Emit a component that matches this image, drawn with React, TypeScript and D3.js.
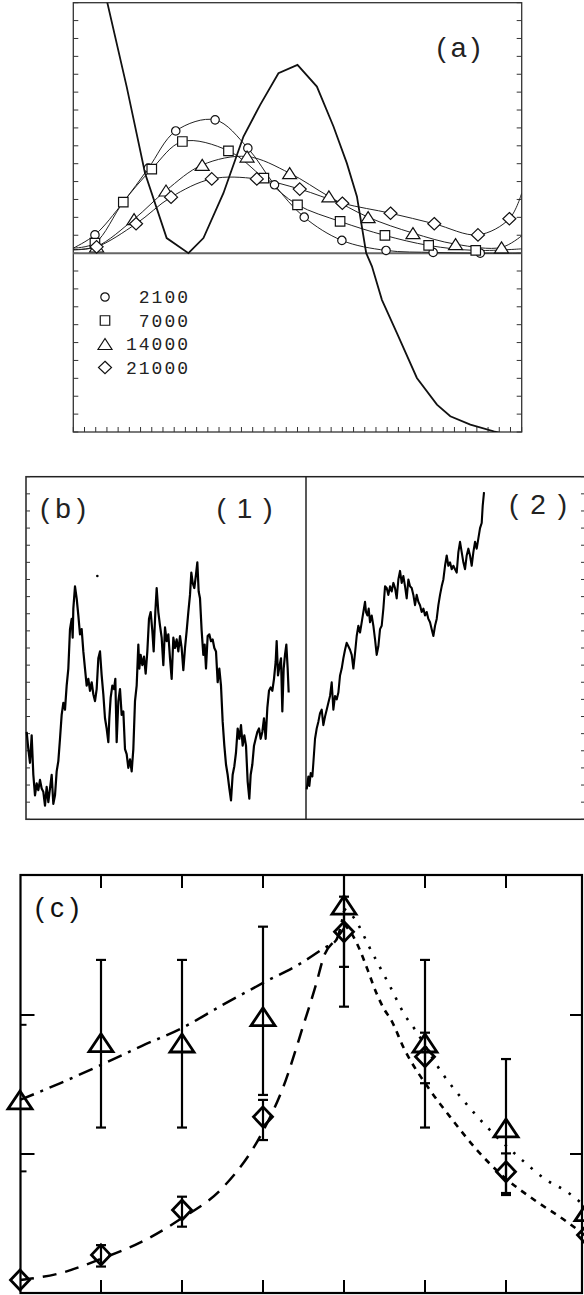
import React from 'react';
import * as d3 from 'd3';

const W = 584, H = 1295;

// ---------- panel (a) ----------
// thick solid curve
const solidCurve: [number, number][] = [
  [2.5, 15.5], [2.98, 14.15], [4.76, 9.31], [6.4, 4.47], [8.33, 0.84], [10.27, 0], [11.61, 0.84],
  [13.39, 3.35], [15.18, 6.52], [16.67, 8.29], [18.3, 10.06], [20.0, 10.52], [21.73, 9.31],
  [23.21, 7.08], [24.4, 5.03], [25.3, 3.17], [26.13, 0], [26.64, -0.74], [27.53, -2.61],
  [28.87, -4.47], [30.65, -6.98], [32.44, -8.47], [33.63, -9.12], [35.42, -9.59], [37.5, -9.96], [39, -10.2]
];
// thin curves with markers (first and last points are line ends only)
const s2100: [number, number][] = [
  [0, 0.28], [1.93, 1.02], [4.46, 2.85], [6.7, 4.75], [9.14, 6.83], [12.65, 7.45], [15.57, 5.87],
  [17.95, 3.82], [20.6, 2.01], [23.96, 0.71], [27.9, 0.15], [32.1, 0.04], [36.3, 0.0], [40, 0.0]
];
const s7000: [number, number][] = [
  [0, 0.28], [1.93, 0.56], [4.46, 2.85], [7.0, 4.7], [9.73, 6.24], [13.84, 5.72], [17.0, 4.19],
  [20.0, 2.7], [23.8, 1.77], [27.8, 0.99], [31.7, 0.43], [35.9, 0.15], [40, 0.24]
];
const s14000: [number, number][] = [
  [0, 0.2], [2.08, 0.37], [5.42, 1.9], [8.27, 3.5], [11.5, 4.93], [15.5, 5.4], [19.3, 4.47],
  [22.8, 3.17], [26.3, 2.01], [30.3, 1.12], [34.1, 0.5], [38.2, 0.32], [40, 0.97]
];
const s21000: [number, number][] = [
  [0, 0.18], [2.08, 0.35], [5.6, 1.64], [8.72, 3.13], [12.35, 4.15], [16.37, 4.15], [20.2, 3.58],
  [24.0, 2.79], [28.3, 2.23], [32.2, 1.64], [36.1, 1.02], [38.9, 1.92], [40, 3.35]
];
const legendLabels = ['2100', '7000', '14000', '21000'];
const legendShapes = ['circle', 'square', 'triangle', 'diamond'];

// ---------- panel (b) ----------
const walk1: [number, number][] = [
  [2, 5.1], [7, 4.1], [12, 3.3], [17, 4.9], [22, 2.6], [27, 1.4], [32, 2.1], [37, 1.7], [42, 2.3], [47, 1.8],
  [52, 1.6], [57, 0.8], [62, 1.9], [67, 1.0], [72, 1.8], [77, 2.6], [82, 0.9], [87, 1.4], [92, 2.8], [97, 3.4],
  [102, 4.7], [107, 6.1], [112, 6.8], [117, 6.4], [122, 7.8], [127, 8.8], [132, 11.1], [137, 11.7], [140, 10.6],
  [142, 12.3], [147, 13.6], [152, 12.9], [157, 11.9], [162, 10.8], [167, 11.1], [172, 9.8], [177, 8.8], [182, 7.8],
  [187, 8.2], [192, 7.5], [197, 8.0], [202, 7.3], [207, 6.9], [212, 7.6], [217, 9.4], [222, 9.8], [227, 8.4],
  [232, 7.3], [237, 5.9], [242, 5.3], [247, 4.5], [250, 5.9], [254, 7.1], [259, 7.8], [264, 7.6], [268, 8.2],
  [272, 4.5], [277, 6.9], [282, 7.6], [287, 6.1], [292, 6.3], [297, 4.1], [302, 3.8], [307, 3.0], [312, 3.5],
  [317, 2.8], [322, 4.1], [327, 6.9], [332, 7.8], [337, 10.2], [340, 8.8], [344, 9.6], [349, 9.0], [354, 9.5],
  [359, 8.5], [364, 9.8], [369, 11.7], [374, 12.1], [379, 11.0], [383, 9.8], [388, 12.1], [392, 13.5], [397, 12.1],
  [402, 11.3], [407, 10.6], [412, 9.0], [417, 11.2], [422, 10.4], [427, 10.8], [432, 9.4], [437, 8.2], [442, 10.6],
  [447, 10.0], [452, 10.5], [457, 9.8], [462, 10.7], [467, 10.0], [472, 8.7], [477, 10.0], [482, 11.0], [487, 12.1],
  [492, 13.1], [496, 14.4], [500, 13.8], [505, 13.5], [510, 14.3], [514, 15.0], [518, 13.3], [522, 12.9], [527, 11.0],
  [532, 9.6], [536, 10.2], [540, 8.8], [545, 10.7], [550, 10.8], [555, 10.4], [560, 10.5], [565, 10.0], [570, 9.8],
  [575, 8.0], [580, 8.8], [585, 7.8], [590, 5.7], [595, 4.3], [600, 3.2], [605, 2.6], [610, 1.8], [615, 1.1],
  [620, 2.6], [625, 3.1], [630, 3.9], [635, 5.3], [640, 4.7], [645, 5.5], [650, 4.3], [655, 4.9], [660, 4.3],
  [665, 2.2], [670, 1.2], [674, 2.6], [679, 3.2], [684, 4.3], [689, 4.7], [694, 5.1], [699, 5.3], [704, 4.7],
  [709, 5.1], [714, 5.9], [719, 4.7], [724, 6.5], [729, 7.5], [734, 7.7], [739, 7.5], [744, 8.2], [749, 9.2],
  [752, 10.4], [756, 8.4], [761, 9.0], [765, 9.4], [769, 6.3], [773, 8.8], [777, 9.6], [781, 10.2], [785, 8.8], [788, 7.4]
];
const walk2: [number, number][] = [
  [3, 1.75], [8, 2.5], [11, 1.95], [15, 2.7], [20, 2.5], [23, 3.3], [28, 4.7], [33, 5.3], [38, 5.7], [43, 6.2],
  [48, 6.4], [53, 5.5], [58, 6.0], [63, 6.4], [68, 6.8], [73, 7.2], [78, 8.0], [83, 6.4], [88, 7.2], [93, 7.0],
  [98, 7.4], [103, 8.4], [108, 8.8], [113, 9.4], [118, 9.9], [123, 10.3], [128, 10.1], [133, 9.9], [138, 9.6],
  [143, 8.8], [148, 9.7], [153, 10.7], [158, 11.3], [163, 10.9], [168, 11.5], [173, 12.1], [178, 12.7], [181, 12.1],
  [185, 11.9], [189, 12.3], [193, 11.5], [198, 11.9], [203, 11.3], [208, 10.5], [213, 9.6], [218, 10.1], [223, 11.1],
  [228, 11.3], [233, 12.3], [238, 13.6], [243, 13.5], [248, 13.1], [253, 13.6], [258, 13.3], [263, 13.8], [268, 13.5],
  [273, 12.9], [278, 14.0], [283, 14.5], [288, 13.8], [293, 14.2], [298, 13.6], [303, 12.9], [308, 14.0], [313, 13.6],
  [318, 13.5], [323, 13.1], [328, 12.5], [333, 13.1], [338, 12.7], [343, 12.5], [348, 12.1], [353, 12.3], [358, 11.9],
  [363, 12.1], [368, 11.7], [373, 11.5], [378, 11.1], [383, 10.7], [388, 11.3], [393, 11.7], [398, 12.5], [403, 13.1],
  [408, 13.6], [413, 14.0], [418, 14.8], [423, 15.4], [428, 14.8], [433, 15.0], [438, 14.6], [443, 14.8], [448, 14.6],
  [453, 14.4], [458, 15.6], [463, 16.2], [468, 15.6], [473, 15.0], [478, 14.6], [483, 15.4], [488, 15.8], [493, 15.4],
  [498, 14.8], [503, 15.6], [508, 16.2], [513, 15.8], [518, 16.4], [523, 17.0], [528, 17.3], [531, 18.3], [535, 19.1]
];
const speck: [number, number] = [214, 14.2];

// ---------- panel (c) ----------
const cX = [0, 1, 2, 3, 4, 5, 6, 7];
const triVals = [24.5, 63.2, 62.9, 97.2, 618, 62.9, 15.4, 3.85];
const triLo = [null, 15.5, 15.5, 26.6, 114.8, 15.5, 5.07, null];
const triHi = [null, 249, 249, 432, 3300, 249, 48.2, null];
const diaVals = [1.24, 1.88, 3.96, 18.5, 397, 50.1, 7.46, 2.61];
const diaLo = [null, 1.55, 3.0, 12.6, 222, 32.3, 5.24, null];
const diaHi = [null, 2.21, 4.93, 24.5, 710, 74.6, 10.1, null];
const triFitLeft: [number, number][] = [
  [0, 24.5], [0.5, 32.4], [1, 43.7], [1.5, 59.8], [2, 80.6], [2.5, 118], [3, 170], [3.5, 242], [3.75, 302], [3.9, 343], [4, 560]
];
const triFitRight: [number, number][] = [
  [4, 580], [4.1, 520], [4.35, 279], [4.57, 160], [4.75, 100], [4.88, 78], [5.21, 38.3], [5.5, 23.3],
  [5.8, 14.9], [6.17, 9.36], [6.5, 6.5], [6.75, 5.36], [7, 4.09]
];
const diaFitLeft: [number, number][] = [
  [0, 1.24], [0.5, 1.39], [1, 1.76], [1.5, 2.33], [2, 3.46], [2.5, 5.7], [3, 14.6], [3.25, 30.3],
  [3.5, 85], [3.66, 170], [3.75, 263], [3.9, 350], [4, 420]
];
const diaFitRight: [number, number][] = [
  [4, 450], [4.1, 380], [4.2, 290], [4.3, 205], [4.4, 144], [4.5, 109], [4.57, 94.7], [4.75, 56], [5.06, 28.9],
  [5.31, 18.5], [5.64, 10.7], [5.97, 6.87], [6.35, 4.67], [6.75, 3.26], [7, 2.53]
];
const cMajorTicks = [10, 100];
const cMinorTicks = [7.5, 85];

// ---------- scales ----------
const xA = d3.scaleLinear().domain([0, 40]).range([73.3, 521.7]);
const yA = d3.scaleLinear().domain([-10, 14]).range([432, 2.7]);
const yB = d3.scaleLinear().domain([0, 20]).range([819.3, 476.7]);
const xB1 = d3.scaleLinear().domain([0, 840]).range([26, 306]);
const xB2 = d3.scaleLinear().domain([0, 840]).range([305.7, 585.7]);
const xC = d3.scaleLinear().domain([0, 7]).range([20, 587]);
const yC = d3.scaleLog().domain([1, 1000]).range([1293, 876]);

const shapePath = (shape: string, w: number, h: number) => {
  const a = w / 2, b = h / 2;
  if (shape === 'circle') return `M${-a},0a${a},${a} 0 1,0 ${w},0a${a},${a} 0 1,0 ${-w},0`;
  if (shape === 'square') return `M${-a},${-b}h${w}v${h}h${-w}Z`;
  if (shape === 'triangle') return `M0,${-b}L${a},${b}L${-a},${b}Z`;
  return `M0,${-b}L${a},0L0,${b}L${-a},0Z`;
};
const sizeA: Record<string, [number, number]> = {
  circle: [8.4, 8.4], square: [9.5, 9.5], triangle: [14, 11], diamond: [13, 12.5]
};

const mono = '"Liberation Mono", "DejaVu Sans Mono", monospace';
const sans = '"Liberation Sans", Arial, sans-serif';

export default function App() {
  const lineA = d3.line<[number, number]>().x(d => xA(d[0])).y(d => yA(d[1]));
  const smoothA = d3.line<[number, number]>().x(d => xA(d[0])).y(d => yA(d[1])).curve(d3.curveCatmullRom.alpha(0.5));
  const lineB1 = d3.line<[number, number]>().x(d => xB1(d[0])).y(d => yB(d[1]));
  const lineB2 = d3.line<[number, number]>().x(d => xB2(d[0])).y(d => yB(d[1]));
  const lineC = d3.line<[number, number]>().x(d => xC(d[0])).y(d => yC(d[1])).curve(d3.curveMonotoneX);

  const seriesA = [
    { pts: s2100, shape: 'circle' },
    { pts: s7000, shape: 'square' },
    { pts: s14000, shape: 'triangle' },
    { pts: s21000, shape: 'diamond' }
  ];

  const frameA = { x0: 73.3, x1: 521.7, y0: 2.7, y1: 432 };
  const frameB = { x0: 26, x1: 587, y0: 476.7, y1: 819.3, mid: 306 };
  const frameC = { x0: 20.5, x1: 582, y0: 875, y1: 1293 };

  return (
    <svg width={W} height={H} style={{ position: 'absolute', left: 0, top: 0, background: '#fff' }}>
      <defs>
        <clipPath id="clipA"><rect x={frameA.x0} y={frameA.y0} width={frameA.x1 - frameA.x0} height={frameA.y1 - frameA.y0} /></clipPath>
        <clipPath id="clipC"><rect x={0} y={frameC.y0} width={W} height={frameC.y1 - frameC.y0} /></clipPath>
      </defs>
      <rect width={W} height={H} fill="#fff" />

      {/* ---------- panel (a) ---------- */}
      <g>
        <rect x={frameA.x0} y={frameA.y0} width={frameA.x1 - frameA.x0} height={frameA.y1 - frameA.y0}
          fill="none" stroke="#333" strokeWidth={1.3} />
        {xA.ticks(40).map(t => (
          <line key={'ab' + t} x1={xA(t)} x2={xA(t)} y1={frameA.y1} y2={frameA.y1 - 5} stroke="#333" strokeWidth={1} />
        ))}
        {yA.ticks(24).map(t => (
          <g key={'ay' + t}>
            <line x1={frameA.x0} x2={frameA.x0 + 5} y1={yA(t)} y2={yA(t)} stroke="#333" strokeWidth={1} />
            <line x1={frameA.x1} x2={frameA.x1 - 5} y1={yA(t)} y2={yA(t)} stroke="#333" strokeWidth={1} />
          </g>
        ))}
        <line x1={frameA.x0} x2={frameA.x1} y1={yA(0)} y2={yA(0)} stroke="#666" strokeWidth={2} />
        <g clipPath="url(#clipA)">
          {seriesA.map(s => (
            <path key={s.shape} d={smoothA(s.pts) || ''} fill="none" stroke="#222" strokeWidth={1} />
          ))}
          <path d={lineA(solidCurve) || ''} fill="none" stroke="#111" strokeWidth={1.8} />
          {seriesA.map(s => s.pts.slice(1, -1).map((p, i) => (
            <path key={s.shape + i} transform={`translate(${xA(p[0])},${yA(p[1])})`}
              d={shapePath(s.shape, sizeA[s.shape][0], sizeA[s.shape][1])}
              fill="#fff" stroke="#111" strokeWidth={1.2} />
          )))}
        </g>
        <text x={461} y={57} fontFamily={sans} fontSize={28} letterSpacing={5} textAnchor="middle" fill="#222">(a)</text>
        {legendLabels.map((lab, i) => {
          const yy = 297 + i * 23.5;
          const sh = legendShapes[i];
          return (
            <g key={lab}>
              <path transform={`translate(105,${yy})`} d={shapePath(sh, sizeA[sh][0], sizeA[sh][1])}
                fill="#fff" stroke="#111" strokeWidth={1.2} />
              <text x={190} y={yy + 6} fontFamily={mono} fontSize={18} letterSpacing={2}
                textAnchor="end" fill="#222">{lab}</text>
            </g>
          );
        })}
      </g>

      {/* ---------- panel (b) ---------- */}
      <g>
        <rect x={frameB.x0} y={frameB.y0} width={frameB.x1 - frameB.x0} height={frameB.y1 - frameB.y0}
          fill="none" stroke="#222" strokeWidth={1.5} />
        <line x1={frameB.mid} x2={frameB.mid} y1={frameB.y0} y2={frameB.y1} stroke="#222" strokeWidth={1.5} />
        {yB.ticks(20).map(t => (
          <g key={'by' + t}>
            <line x1={frameB.x0} x2={frameB.x0 + 4} y1={yB(t)} y2={yB(t)} stroke="#333" strokeWidth={1} />
            <line x1={frameB.x1} x2={frameB.x1 - 6} y1={yB(t)} y2={yB(t)} stroke="#333" strokeWidth={1} />
          </g>
        ))}
        <path d={lineB1(walk1) || ''} fill="none" stroke="#000" strokeWidth={2.2} strokeLinejoin="round" />
        <path d={lineB2(walk2) || ''} fill="none" stroke="#000" strokeWidth={2.1} strokeLinejoin="round" />
        <circle cx={xB1(speck[0])} cy={yB(speck[1])} r={1.3} fill="#000" />
        <text x={66} y={518} fontFamily={sans} fontSize={28} letterSpacing={6} textAnchor="middle" fill="#222">(b)</text>
        <text x={250} y={518} fontFamily={sans} fontSize={28} letterSpacing={11} textAnchor="middle" fill="#222">(1)</text>
        <text x={544} y={514} fontFamily={sans} fontSize={28} letterSpacing={12} textAnchor="middle" fill="#222">(2)</text>
      </g>

      {/* ---------- panel (c) ---------- */}
      <g>
        <rect x={frameC.x0} y={frameC.y0} width={frameC.x1 - frameC.x0} height={frameC.y1 - frameC.y0}
          fill="none" stroke="#000" strokeWidth={2.2} />
        {cX.slice(1, 7).map(t => (
          <g key={'cx' + t}>
            <line x1={xC(t)} x2={xC(t)} y1={frameC.y1} y2={frameC.y1 - 13} stroke="#000" strokeWidth={2} />
            <line x1={xC(t)} x2={xC(t)} y1={frameC.y0} y2={frameC.y0 + 13} stroke="#000" strokeWidth={2} />
          </g>
        ))}
        {cMajorTicks.map(t => (
          <g key={'cM' + t}>
            <line x1={frameC.x0} x2={frameC.x0 + 14} y1={yC(t)} y2={yC(t)} stroke="#000" strokeWidth={2} />
            <line x1={frameC.x1} x2={frameC.x1 - 12} y1={yC(t)} y2={yC(t)} stroke="#000" strokeWidth={2} />
          </g>
        ))}
        {cMinorTicks.map(t => (
          <line key={'cm' + t} x1={frameC.x0} x2={frameC.x0 + 6} y1={yC(t)} y2={yC(t)} stroke="#000" strokeWidth={2} />
        ))}
        <g clipPath="url(#clipC)">
          <path d={lineC(triFitLeft) || ''} fill="none" stroke="#000" strokeWidth={2.5} strokeDasharray="15 7 3 7" />
          <path d={lineC(diaFitLeft) || ''} fill="none" stroke="#000" strokeWidth={2.5} strokeDasharray="14 9" />
          <path d={lineC(triFitRight) || ''} fill="none" stroke="#000" strokeWidth={2.6} strokeDasharray="2.5 9" />
          <path d={lineC(diaFitRight) || ''} fill="none" stroke="#000" strokeWidth={2.6} strokeDasharray="6 6" />
          {[{ lo: triLo, hi: triHi }, { lo: diaLo, hi: diaHi }].map((e, k) => cX.map((x, i) => {
            const lo = e.lo[i], hi = e.hi[i];
            if (lo == null || hi == null) return null;
            const px = xC(x);
            return (
              <g key={'e' + k + i} stroke="#000" strokeWidth={2.2}>
                <line x1={px} x2={px} y1={yC(lo)} y2={yC(hi)} />
                <line x1={px - 5} x2={px + 5} y1={yC(lo)} y2={yC(lo)} />
                <line x1={px - 5} x2={px + 5} y1={yC(hi)} y2={yC(hi)} />
              </g>
            );
          }))}
        </g>
        {cX.map((x, i) => (
          <path key={'t' + i} transform={`translate(${xC(x)},${yC(triVals[i])})`} d={shapePath('triangle', 24, 18)}
            fill="none" stroke="#000" strokeWidth={2.8} strokeLinejoin="miter" />
        ))}
        {cX.map((x, i) => (
          <path key={'d' + i} transform={`translate(${xC(x)},${yC(diaVals[i])})`} d={shapePath('diamond', 19, 20)}
            fill="none" stroke="#000" strokeWidth={2.8} />
        ))}
        <text x={60} y={917} fontFamily={sans} fontSize={28} letterSpacing={6} textAnchor="middle" fill="#111">(c)</text>
      </g>
    </svg>
  );
}
